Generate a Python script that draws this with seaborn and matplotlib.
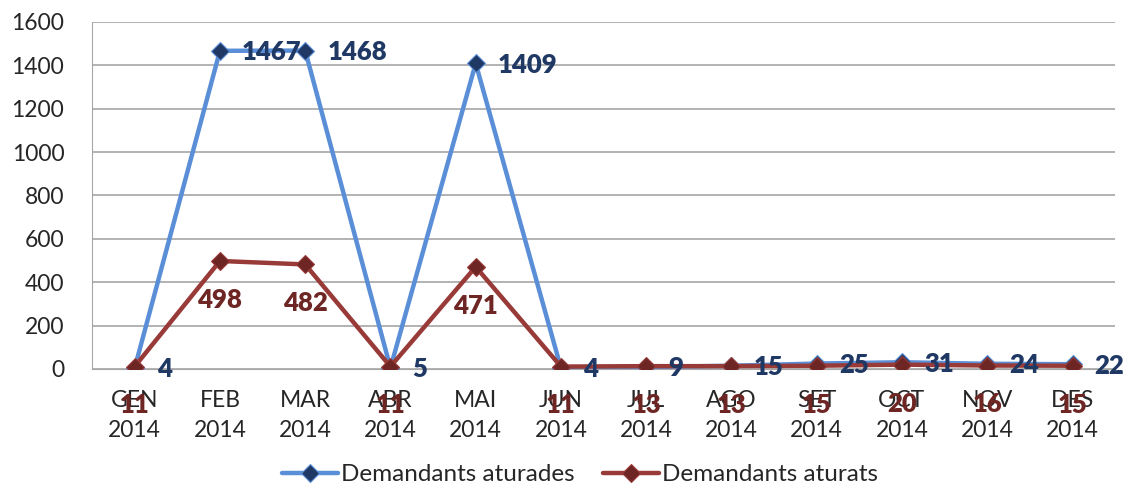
import numpy as np
import pandas as pd
import matplotlib
matplotlib.use("Agg")
import matplotlib.pyplot as plt
import seaborn as sns

months = ["GEN", "FEB", "MAR", "ABR", "MAI", "JUN", "JUL", "AGO", "SET", "OCT", "NOV", "DES"]
year = "2014"
aturades = [4, 1467, 1468, 5, 1409, 4, 9, 15, 25, 31, 24, 22]
aturats = [11, 498, 482, 11, 471, 11, 13, 13, 15, 20, 16, 15]
series_names = ["Demandants aturades", "Demandants aturats"]
y_ticks = [0, 200, 400, 600, 800, 1000, 1200, 1400, 1600]

sns.set_style("white")
plt.rcParams['font.family'] = ['Lato', 'DejaVu Sans']

df = pd.DataFrame({
    'pos': list(range(len(months))) * 2,
    'value': aturades + aturats,
    'serie': [series_names[0]] * len(months) + [series_names[1]] * len(months),
})

line_colors = {series_names[0]: '#5A8FD8', series_names[1]: '#973A38'}
marker_faces = {series_names[0]: '#1F3864', series_names[1]: '#6E2624'}

fig = plt.figure(figsize=(11.28, 4.88), dpi=100)
ax = fig.add_axes([0.0816, 0.2439, 0.907, 0.7111])

for name in series_names:
    sub = df[df['serie'] == name]
    sns.lineplot(data=sub, x='pos', y='value', ax=ax, color=line_colors[name], linewidth=3.2,
                 marker='D', markersize=9, markerfacecolor=marker_faces[name],
                 markeredgecolor=line_colors[name], markeredgewidth=0.8, label=name, zorder=3)

# data labels
for i, v in enumerate(aturades):
    ax.annotate(str(v), (i, v), xytext=(16, -1), textcoords='offset points', ha='left', va='center',
                fontsize=18.5, fontweight='heavy', color='#1F3864', zorder=4)
for i, v in enumerate(aturats):
    ax.annotate(str(v), (i, v), xytext=(0, -28), textcoords='offset points', ha='center', va='center',
                fontsize=18.5, fontweight='heavy', color='#6E2624', zorder=4)

ax.set_xlim(-0.5, len(months) - 0.5)
ax.set_ylim(0, 1600)
ax.set_yticks(y_ticks)
ax.set_yticklabels([str(t) for t in y_ticks], fontsize=16.5)
ax.set_xticks(range(len(months)))
ax.set_xticklabels([f"{m}\n{year}" for m in months], fontsize=16.5, linespacing=1.55)
ax.tick_params(axis='y', length=0, pad=20)
ax.tick_params(axis='x', length=0, pad=15)
ax.yaxis.grid(True, color='#A6A6A6', linewidth=1.2)
ax.set_axisbelow(True)
for s in ['top', 'right']:
    ax.spines[s].set_visible(False)
ax.spines['left'].set_color('#A6A6A6')
ax.spines['bottom'].set_color('#A6A6A6')
ax.set_xlabel('')
ax.set_ylabel('')

ax.legend(loc='center', bbox_to_anchor=(0.477, -0.305), ncol=2, frameon=False, fontsize=17.5,
          handlelength=2.3, columnspacing=1.2, handletextpad=0.1, borderaxespad=0, borderpad=0.1)

plt.savefig('out.png', dpi=100)
plt.close()
